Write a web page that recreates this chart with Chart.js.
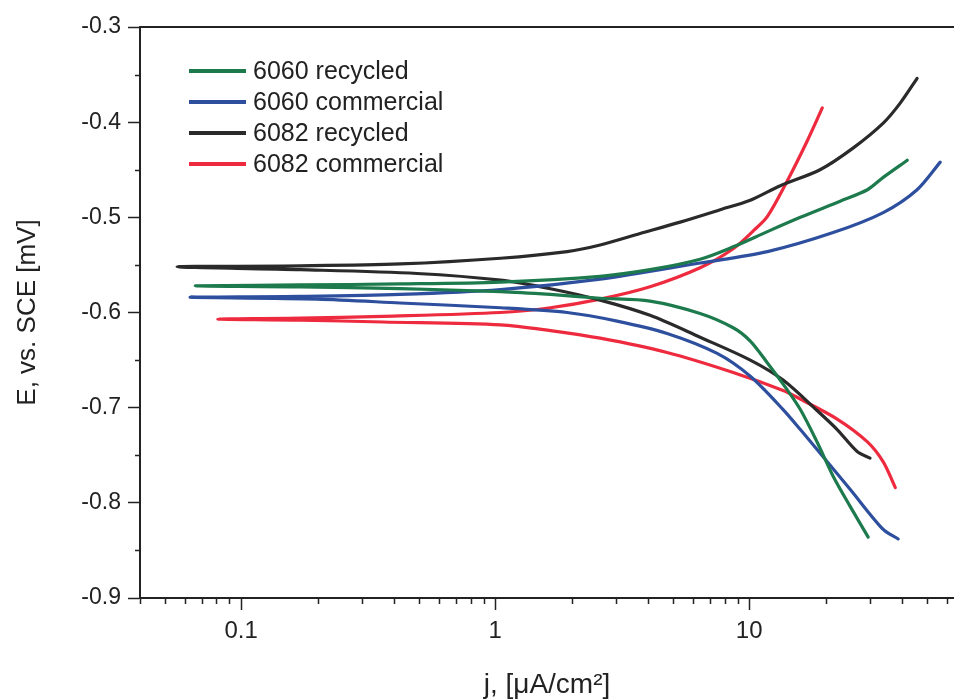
<!DOCTYPE html>
<html><head><meta charset="utf-8">
<script src="https://cdn.jsdelivr.net/npm/chart.js@4.4.1/dist/chart.umd.min.js"></script>
<style>html,body{margin:0;padding:0;background:#fff;overflow:hidden}</style>
</head><body>
<canvas id="c" width="954" height="699"></canvas>
<script>
// ---- data ----
const seriesNames = ['6060 recycled', '6060 commercial', '6082 recycled', '6082 commercial'];
const seriesColors = ['#1c7a4c', '#2d4f9e', '#2a2a2a', '#ee2a3e'];

const xMajorTicks = [0.1, 1, 10];
const xMinorTicks = [0.04,0.05,0.06,0.07,0.08,0.09,0.2,0.3,0.4,0.5,0.6,0.7,0.8,0.9,2,3,4,5,6,7,8,9,20,30,40,50,60];
const yMajorTicks = [-0.9,-0.8,-0.7,-0.6,-0.5,-0.4,-0.3];
const yMinorTicks = [-0.85,-0.75,-0.65,-0.55,-0.45,-0.35];

// current density j [uA/cm2] and potential E, from cathodic end -> corrosion tip -> anodic end
const j6060r = [29.4,25.0,21.4,18.5,15.9,14.1,11.8,10.1,8.65,6.41,4.07,2.59,1.65,1.05,0.423,0.171,0.066,0.171,0.423,1.05,2.59,4.07,6.41,8.65,11.8,15.9,22.8,29.2,33.7,41.9];
const E6060r = [-0.836,-0.804,-0.772,-0.736,-0.702,-0.681,-0.653,-0.630,-0.616,-0.601,-0.588,-0.585,-0.581,-0.578,-0.575,-0.573,-0.572,-0.571,-0.570,-0.568,-0.562,-0.555,-0.544,-0.531,-0.515,-0.500,-0.483,-0.471,-0.458,-0.440];

const j6060c = [38.6,33.7,25.0,18.5,15.9,13.6,10.1,7.48,4.75,3.02,1.92,1.05,0.423,0.199,0.063,0.171,0.423,1.05,2.59,6.41,11.8,21.4,33.7,45.8,56.5];
const E6060c = [-0.838,-0.828,-0.786,-0.744,-0.723,-0.702,-0.667,-0.643,-0.622,-0.609,-0.600,-0.595,-0.590,-0.586,-0.584,-0.583,-0.581,-0.576,-0.565,-0.548,-0.536,-0.516,-0.495,-0.471,-0.442];

const j6082r = [29.9,26.6,22.2,18.5,13.6,10.1,6.41,4.07,2.59,1.65,1.05,0.493,0.171,0.056,0.171,0.423,1.05,1.92,2.59,3.72,5.35,7.69,10.1,13.2,19.0,25.7,33.7,39.3,45.8];
const E6082r = [-0.753,-0.746,-0.723,-0.703,-0.671,-0.650,-0.626,-0.603,-0.587,-0.575,-0.566,-0.559,-0.555,-0.552,-0.551,-0.549,-0.543,-0.536,-0.529,-0.517,-0.505,-0.492,-0.482,-0.467,-0.450,-0.427,-0.401,-0.380,-0.354];

const j6082c = [37.6,33.7,29.2,22.2,15.9,13.6,8.65,4.75,2.59,1.65,1.05,0.362,0.171,0.081,0.171,0.362,1.05,1.65,2.59,4.07,6.41,8.65,10.4,11.8,14.1,16.9,19.4];
const E6082c = [-0.784,-0.757,-0.736,-0.712,-0.691,-0.682,-0.663,-0.642,-0.627,-0.619,-0.613,-0.610,-0.608,-0.607,-0.606,-0.604,-0.600,-0.595,-0.586,-0.573,-0.553,-0.533,-0.514,-0.499,-0.462,-0.420,-0.385];

const seriesJ = [j6060r, j6060c, j6082r, j6082c];
const seriesE = [E6060r, E6060c, E6082r, E6082c];

// ---- chart ----
const FONT = "'Liberation Sans', Arial, Helvetica, sans-serif";
const AX = '#222';

const datasets = seriesNames.map((n, i) => ({
  label: n,
  data: seriesJ[i].map((v, k) => ({x: v, y: seriesE[i][k]})),
  borderColor: seriesColors[i],
  backgroundColor: seriesColors[i],
  borderWidth: 3.2,
  pointRadius: 0,
  showLine: true,
  tension: 0.3,
  fill: false,
  borderCapStyle: 'round',
  borderJoinStyle: 'round'
}));

const extras = {
  id: 'extras',
  afterDraw(chart) {
    const ctx = chart.ctx, xs = chart.scales.x, ys = chart.scales.y, a = chart.chartArea;
    ctx.save();
    ctx.strokeStyle = AX;
    ctx.lineWidth = 1.5;
    ctx.beginPath();
    xMinorTicks.forEach(v => { const p = Math.round(xs.getPixelForValue(v)) + 0.5; ctx.moveTo(p, a.bottom); ctx.lineTo(p, a.bottom + 6); });
    yMinorTicks.forEach(v => { const p = Math.round(ys.getPixelForValue(v)) + 0.5; ctx.moveTo(a.left, p); ctx.lineTo(a.left - 5, p); });
    ctx.stroke();
    // top frame line
    ctx.lineWidth = 2;
    ctx.beginPath();
    ctx.moveTo(a.left, a.top); ctx.lineTo(a.right, a.top);
    ctx.stroke();
    // legend
    const lx0 = 189, lx1 = 246, tx = 253, y0 = 71, dy = 31;
    ctx.font = '25px ' + FONT;
    ctx.textBaseline = 'middle';
    ctx.textAlign = 'left';
    seriesNames.forEach((n, i) => {
      const yy = y0 + i * dy;
      ctx.strokeStyle = seriesColors[i];
      ctx.lineWidth = 4;
      ctx.beginPath(); ctx.moveTo(lx0, yy); ctx.lineTo(lx1, yy); ctx.stroke();
      ctx.fillStyle = '#222';
      ctx.fillText(n, tx, yy + 1);
    });
    ctx.restore();
  }
};

new Chart(document.getElementById('c'), {
  type: 'scatter',
  data: { datasets },
  options: {
    responsive: false,
    animation: false,
    devicePixelRatio: 1,
    layout: { padding: { left: 0, right: 0, top: 27, bottom: 0 } },
    plugins: { legend: { display: false }, tooltip: { enabled: false } },
    scales: {
      x: {
        type: 'logarithmic',
        position: 'bottom',
        min: 0.04, max: 64,
        afterBuildTicks: s => { s.ticks = xMajorTicks.map(v => ({value: v, major: true})); },
        afterFit: s => { s.height = 101; },
        ticks: {
          color: AX, font: { family: FONT, size: 24 }, padding: 7, maxRotation: 0, autoSkip: false,
          callback: v => String(v)
        },
        grid: { drawOnChartArea: false, drawTicks: true, tickLength: 12, tickWidth: 1.5, tickColor: AX },
        border: { display: true, color: AX, width: 2 },
        title: { display: true, text: 'j, [\u03BCA/cm\u00B2]', color: AX, font: { family: FONT, size: 28, lineHeight: 1 }, padding: { top: 0, bottom: 0 } }
      },
      y: {
        type: 'linear',
        position: 'left',
        min: -0.9, max: -0.3,
        afterBuildTicks: s => { s.ticks = yMajorTicks.map(v => ({value: v})); },
        afterFit: s => { s.width = 140; },
        ticks: {
          color: AX, font: { family: FONT, size: 23 }, padding: 7, autoSkip: false,
          callback: v => v.toFixed(1)
        },
        grid: { drawOnChartArea: false, drawTicks: true, tickLength: 12, tickWidth: 1.5, tickColor: AX },
        border: { display: true, color: AX, width: 2 },
        title: { display: true, text: 'E, vs. SCE [mV]', color: AX, font: { family: FONT, size: 26, lineHeight: 1 }, padding: { top: 15, bottom: 0 } }
      }
    }
  },
  plugins: [extras]
});
</script>
</body></html>
